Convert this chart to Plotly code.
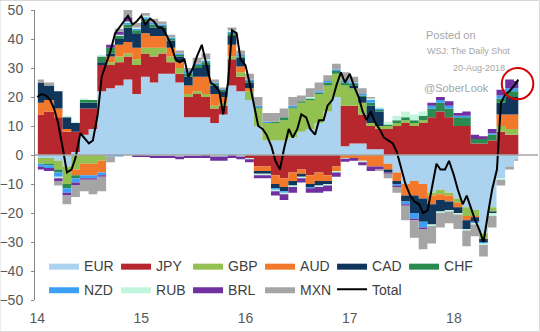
import plotly.graph_objects as go

# ---------------- data ----------------
currencies = ["EUR", "JPY", "GBP", "AUD", "CAD", "CHF", "NZD", "RUB", "BRL", "MXN"]

EUR = [-1, -1, -2, -4, 1, 7, 9, 22, 23, 24, 26, 21, 27, 25, 28, 28, 25, 13, 13, 13, 11, 14, 24, 22, 19, 10,
       5, 5, 5, 6, 8, 9, 11, 15, 20, 3, 4, 4, 2, 2, -3, -6, -10, -9, -10, -13, -12, -13, -15, -18, -19, -27,
       -18, -8, -4, -1.5]
JPY = [14, 15, 13, 8, 7, 9, 7, 9, 8, 8, 8, 10, 8, 9, 7, 4, 3, 7, 8, 7, 5, 3, 9, 5, -1, -4,
       -4, -7, -8, -6, -5, -7, -6, -7, -4, 14, 13, 10, 8, 7, 9, 10, 11, 10, 11, 13, 15, 13, 10, 10, 4, 4,
       5, 8, 7, 7]
GBP = [-2, -2, -3, -6, -5, -3, -3, -2, 1, 2, 1, 2, 2, 3, 2, 2, 2, 1, 1, 1, 1, 1, 1, 1.5, 3, 6,
       6, 6, 7, 10, 10, 10, 10, 9, 8, 7, 6, 4, 1, 1, 1, 1, 1, 1, 1, -1, -1.5, -1, -1.5, -3, -2, -2,
       -1.5, 2, 2, 2]
AUD = [4, 4, 3, 1, -2, -4, -4, -4, 2, 4, 4, 4, 5, 4, 4, 3, 2, 3, 5, 6, 4, 2, 4, 2, 1, -1.5,
       -1.5, -3, -3, -3, -1.5, -3, -3, -2, -1.5, -1, -1, -2, -4, -4, -2, -3, -4, -5, -5, -3, -2, -2, -1.5, -1.5, -0.5, 0,
       0, 4, 5, 5]
CAD = [7, 5, 6, 4, 3, 2, 2, 1, 1, 2, 5, 5, 4, 3, 3, 2.5, 2, 3, 3, 4, 3, 2, 3, 3, 2, -1,
       -1, -1.5, -1.5, -1.5, -1, -1, -1.5, -1, 0, 0, 1, 2, 6, 5, -1, -1, -2, -6, -8, -7, -4, -3, -2, -3, -1.5, -1,
       -0.5, 4, 6, 6]
CHF = [0, -0.5, -1, -1.5, -1, 1, 1, 2, 2, 1, 1, 1, 1, 1, 0.5, 0.5, 0.5, 1, 1, 1, 0.5, 0.5, 1, 0.5, 0.5, 0.5,
       0, 0.5, 1, 0.5, 0.5, 0.5, 0.5, 1, 1, 1, 0.5, 0.5, 1, 0.5, 0.5, 1, 1, 1, 1.5, 3, 3, 3, 3, 3, 1.5, 1.5,
       2, 1.5, 2, 2]
NZD = [-1, -1, -1.5, -1.5, -1.5, -1, -1, -1, -0.5, -0.5, 0.5, 0.5, 0.5, 0.5, 0.5, 0.5, 0.5, 1, 0.5, 0.5, 0.5, 0.3, 0.5, 0.5, 0.5, 0.5,
       0.5, -0.5, -0.5, 0.5, 0, -0.5, 0.5, 0.5, 0.5, 0.5, 0.5, 0.5, 1, 0.5, 0, -0.5, -1, -2, -2, 1, 1, 1, 0.5, 0.5, -0.5, -0.5,
       0.5, 1, 1, 1]
RUB = [0, 0, -0.5, 0.5, 0.5, 0.5, 0, 0.5, 0, 0.5, 0.5, 0.5, 0.5, -0.3, -0.3, -0.3, -0.5, -0.3, -0.3, 0.5, -0.5, -0.5, 0.5, -0.5, -0.5, -0.5,
       -0.5, -0.5, -0.5, -0.5, -0.5, 0.5, -0.5, -0.5, -0.5, -0.3, 0, -0.5, 0.5, 0.5, 1, 1.5, 2, 2, 1.5, -0.5, -0.5, -0.5, -0.5, -0.5, -0.5, -0.5,
       -1, -0.5, 0, 0]
BRL = [-1, -1, -1, -1, -1, -0.5, -0.5, -0.5, 1, 1, 1.5, -0.7, -0.7, -0.7, -0.7, -0.7, -1, -0.7, -0.7, -1, -1.5, -1.5, -1, -1, -1, -1,
       -1, -1.5, -2, -2, -1.5, -1.5, -2, -2, -1.5, -1, -1, -1, -1.5, -1, -0.5, -0.5, -0.5, -0.5, -0.5, 1, 1, 1.5, 1, 1.5, 1.5, 1,
       1.5, 2, 3, 2.5]
MXN = [1, 1, -1.5, -3, -4, -4, -5, -5, -2, 1, 2.5, 1.5, 1, 1.5, 1, 1, 1, 1, 2, 2, 1, 0.5, 1, 1.5, 2, 3,
       3, 3, 3, 3, 2, 3, 3, 2, 2, 3, 2, 2, 0.5, -0.5, -1.5, -2, -5, -6, -7, -6, -5, -4, -5, -5.5, -4, -4,
       -4, -2, -1, -0.5]

TOTAL = [20, 21, 20.5, 19, 16, 11, 2, -6, -5, -1,
         7.5, 6, 4, 5, 14, 27, 32, 36, 42, 44,
         46, 48, 45, 46, 48, 45, 47, 46, 44, 44,
         41, 38, 33, 32, 33, 27, 30, 34, 38, 32,
         25, 24, 22, 14, 25, 43, 42, 33, 31, 25,
         17, 10, 9, 7, 3, -2, -5, 2, 9, 6,
         9, 14, 13, 9, 7, 12, 12, 17, 19, 24,
         28.5, 25, 28, 24, 20, 15, 12, 15, 11, 9,
         6, 5, 4, 1, -5, -10, -14, -16, -17, -20,
         -19, -12, -3, -5, -5, -2, -7, -12, -17, -14,
         -18, -22, -26, -30, -20, -12, -5, 18, 21, 22, 24, 26]

year_tick_dates = ["2014-01-01", "2015-01-01", "2016-01-01", "2017-01-01", "2018-01-01"]
year_tick_text = ["14", "15", "16", "17", "18"]
y_ticks = [50, 40, 30, 20, 10, 0, -10, -20, -30, -40, -50]

# monthly observation dates for the components, semi-monthly for the total
comp_dates = ["2014-01-03"] + [f"{2014 + m // 12}-{m % 12 + 1:02d}-15" for m in range(1, len(EUR))]
total_dates = []
for m in range(len(TOTAL) // 2):
    total_dates += [f"{2014 + m // 12}-{m % 12 + 1:02d}-01", f"{2014 + m // 12}-{m % 12 + 1:02d}-15"]

series = {"EUR": EUR, "JPY": JPY, "GBP": GBP, "AUD": AUD, "CAD": CAD,
          "CHF": CHF, "NZD": NZD, "RUB": RUB, "BRL": BRL, "MXN": MXN}
colors = {"EUR": "#abd2ef", "JPY": "#b7282e", "GBP": "#92c051", "AUD": "#f2792b", "CAD": "#10365c",
          "CHF": "#2b8a4f", "NZD": "#3d9ef5", "RUB": "#c2f5dd", "BRL": "#7030a0", "MXN": "#a5a5a5"}

FONT = "Liberation Sans, Arial, sans-serif"

fig = go.Figure()
for i, c in enumerate(currencies):
    vals = series[c]
    pos = [max(v, 0) for v in vals]
    neg = [min(v, 0) for v in vals]
    leg = "legend" if i < 6 else "legend2"
    fig.add_trace(go.Scatter(x=comp_dates, y=pos, name=c, stackgroup="pos", mode="lines",
                             line=dict(width=0, shape="hvh"), fillcolor=colors[c],
                             legend=leg, showlegend=True, hoverinfo="skip"))
    fig.add_trace(go.Scatter(x=comp_dates, y=neg, name=c, stackgroup="neg", mode="lines",
                             line=dict(width=0, shape="hvh"), fillcolor=colors[c],
                             legend=leg, showlegend=False, hoverinfo="skip"))

fig.add_trace(go.Scatter(x=total_dates, y=TOTAL, name="Total", mode="lines",
                         line=dict(color="black", width=2), legend="legend2", hoverinfo="skip"))

legend_common = dict(orientation="h", xanchor="left", yanchor="middle", entrywidth=27,
                     entrywidthmode="pixels", itemwidth=30, bgcolor="rgba(0,0,0,0)",
                     traceorder="normal",
                     font=dict(family=FONT, size=14, color="#404040"), tracegroupgap=0)

fig.update_layout(
    width=540, height=332, autosize=False,
    margin=dict(l=35, r=2, t=10, b=32, autoexpand=False),
    paper_bgcolor="white", plot_bgcolor="white",
    font=dict(family=FONT, size=14, color="#595959"),
    legend=dict(x=0.018, y=0.117, **legend_common),
    legend2=dict(x=0.018, y=0.036, **legend_common),
    xaxis=dict(type="date", range=["2013-12-24", "2018-10-23"], showgrid=False, showline=False,
               zeroline=False, tickvals=year_tick_dates, ticktext=year_tick_text, ticks="",
               tickfont=dict(size=14, color="#595959"), ticklabelstandoff=8),
    yaxis=dict(range=[-50, 50], tickvals=y_ticks, showgrid=False, zeroline=False,
               showline=True, linecolor="#868686", linewidth=1, ticks="outside", ticklen=3,
               tickcolor="#868686", tickfont=dict(size=14, color="#595959"), ticklabelstandoff=5),
    shapes=[
        dict(type="line", xref="paper", x0=0, x1=1, yref="y", y0=0, y1=0,
             line=dict(color="#a6a6a6", width=1.5), layer="above"),
        dict(type="circle", xref="paper", yref="paper", x0=0.928, x1=0.9907, y0=0.692, y1=0.80,
             line=dict(color="#d40000", width=2), layer="above"),
        dict(type="rect", xref="paper", yref="paper", x0=-0.0696, x1=1.003, y0=-0.1086, y1=1.0328,
             line=dict(color="#d9d9d9", width=1), layer="above"),
    ],
    annotations=[
        dict(text="Posted on", xref="paper", yref="paper", x=0.7734, y=0.9138, xanchor="left",
             yanchor="middle", showarrow=False, font=dict(family=FONT, size=11, color="#a6a6a6")),
        dict(text="WSJ: The Daily Shot", xref="paper", yref="paper", x=0.7753, y=0.8569, xanchor="left",
             yanchor="middle", showarrow=False, font=dict(family=FONT, size=9, color="#a6a6a6")),
        dict(text="20-Aug-2018", xref="paper", yref="paper", x=0.9384, y=0.80, xanchor="right",
             yanchor="middle", showarrow=False, font=dict(family=FONT, size=9, color="#a6a6a6")),
        dict(text="@SoberLook", xref="paper", yref="paper", x=0.7694, y=0.731, xanchor="left",
             yanchor="middle", showarrow=False, font=dict(family=FONT, size=11, color="#a6a6a6")),
    ],
)

fig.write_html("out.html")
